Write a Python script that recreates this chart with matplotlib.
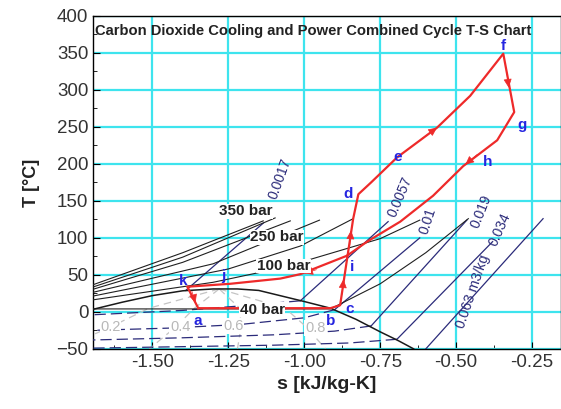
import numpy as np
import matplotlib
matplotlib.use('Agg')
import matplotlib.pyplot as plt

plt.rcParams['font.family'] = ['Liberation Sans', 'DejaVu Sans']

# saturation dome (s in kJ/kg-K, T in C)
dome_s = [-1.70, -1.60, -1.50, -1.40, -1.30, -1.22, -1.15, -1.08, -1.00, -0.914, -0.83, -0.75, -0.69, -0.64]
dome_T = [3, 13, 22, 28.5, 31, 31, 29, 22, 14, 5, -10, -27, -39, -50]

# saturated liquid / vapour entropy at a few temperatures (for quality lines)
sat_T = [31, 5, -20, -50]
sat_sf = [-1.28, -1.66, -1.85, -2.09]
sat_sg = [-1.28, -0.914, -0.78, -0.64]
qualities = [0.2, 0.4, 0.6, 0.8]
quality_pos = [(-1.638, -20), (-1.408, -20), (-1.234, -19), (-0.964, -22)]

# isobars
isobars = {
    '350': ([-1.70, -1.40, -1.135], [36, 80, 123]),
    '300': ([-1.70, -1.40, -1.096], [33, 74, 127]),
    '250': ([-1.70, -1.40, -1.046], [30, 67, 123]),
    '200': ([-1.70, -1.30, -0.95], [26, 65, 124]),
    '150': ([-1.70, -1.25, -1.013, -0.839], [21, 58, 89, 126]),
    '100': ([-1.70, -1.30, -1.07, -0.75, -0.62], [16, 40, 60, 99, 124]),
    '40': ([-1.70, -0.914, -0.75, -0.60, -0.46], [4, 4, 38, 80, 126]),
}
isobar_labels = ['350 bar', '250 bar', '100 bar', '40 bar']
isobar_label_pos = [(-1.194, 136), (-1.089, 101), (-1.069, 62), (-1.138, 3)]

# isochores, superheated / supercritical part
isochores = {
    '0.0017': ([-1.39, -1.135], [29, 120]),
    '0.0057': ([-1.013, -0.724], [15, 122]),
    '0.01': ([-0.90, -0.62], [3, 100]),
    '0.019': ([-0.78, -0.465], [-19, 124]),
    '0.034': ([-0.695, -0.38], [-37, 95]),
    '0.063': ([-0.60, -0.214], [-50, 126]),
}
# isochores inside the dome
isochores_2ph = {
    '0.0057': ([-1.013, -1.15, -1.40, -1.70], [15, 10, 2, -4]),
    '0.01': ([-0.90, -1.00, -1.21, -1.45, -1.70], [3, -8, -17, -22, -25]),
    '0.019': ([-0.78, -0.90, -1.10, -1.40, -1.70], [-19, -26, -31, -35, -38]),
    '0.034': ([-0.695, -0.85, -1.10, -1.40, -1.70], [-37, -42, -45, -47, -49]),
}
isochore_labels = ['0.0017', '0.0057', '0.01', '0.019', '0.034', '0.063 m3/kg']
isochore_label_pos = [(-1.079, 180), (-0.684, 155), (-0.592, 123), (-0.418, 136), (-0.355, 111), (-0.444, 27)]
isochore_label_rot = [70, 67, 72, 68, 66, 71]

# cycle a-b-c-i-d-e-f-g-h-j-k-a
cycle_s = [-1.349, -0.914, -0.882, -0.859, -0.839, -0.822, -0.78, -0.694, -0.563, -0.454, -0.345,
           -0.309, -0.365, -0.477, -0.576, -0.684, -0.793, -0.859, -1.013, -1.079, -1.243, -1.385, -1.349]
cycle_T = [5, 5, 9, 72, 126, 159, 175, 209, 249, 292, 349,
           270, 232, 197, 157, 122, 95, 76, 51, 45, 38, 34, 5]
point_names = ['a', 'b', 'c', 'i', 'd', 'e', 'f', 'g', 'h', 'k', 'j']
point_pos = [(-1.352, -12), (-0.914, -12), (-0.852, 4), (-0.842, 61), (-0.855, 159), (-0.694, 210),
             (-0.345, 360), (-0.283, 252), (-0.395, 203), (-1.40, 42), (-1.266, 49)]
# arrow heads: (tail, head), both on the cycle path
arrows = [((-0.61, 235), (-0.563, 249)), ((-0.334, 325), (-0.327, 303)), ((-0.43, 213), (-0.47, 199)),
          ((-1.37, 28), (-1.358, 12)), ((-0.875, 24), (-0.871, 44)), ((-0.850, 90), (-0.846, 110)),
          ((-0.96, 57), (-1.00, 52))]

red = '#ee2a2a'
navy = '#2b2b7a'
pt_blue = '#2525e0'

fig = plt.figure(figsize=(5.61, 4.09), dpi=100)
ax = fig.add_axes([0.166, 0.147, 0.834, 0.814])

ax.set_xlim(-1.695, -0.155)
ax.set_ylim(-50, 400)
ax.set_xticks(np.arange(-1.5, -0.2, 0.25))
ax.set_xticks(np.arange(-1.625, -0.2, 0.125), minor=True)
ax.set_yticks(np.arange(-50, 401, 50))
ax.set_yticks(np.arange(-50, 401, 25), minor=True)
ax.xaxis.set_major_formatter(matplotlib.ticker.FormatStrFormatter('%.2f'))
ax.tick_params(which='both', direction='in', labelsize=13.5, labelcolor='#333333')
ax.tick_params(which='major', length=5)
ax.tick_params(which='minor', length=3)
ax.grid(True, which='major', color='#3ee4ee', lw=1.6, zorder=0)
ax.set_axisbelow(True)
for sp in ax.spines.values():
    sp.set_linewidth(1.0)

# quality lines
for q in qualities:
    qs = np.array(sat_sf) + q * (np.array(sat_sg) - np.array(sat_sf))
    ax.plot(qs, sat_T, color='#c4c4c4', lw=0.9, ls=(0, (6, 4)), zorder=2)
for q, (x, y) in zip(qualities, quality_pos):
    ax.text(x, y, f'{q:.1f}', color='#b8b8b8', fontsize=10.5, ha='center', va='center', zorder=6,
            bbox=dict(fc='white', ec='none', pad=0.5))

# isochores
for k, (s, T) in isochores_2ph.items():
    ax.plot(s, T, color=navy, lw=0.9, ls=(0, (9, 4)), zorder=3)
for k, (s, T) in isochores.items():
    ax.plot(s, T, color=navy, lw=0.9, zorder=3)
for lab, (x, y), r in zip(isochore_labels, isochore_label_pos, isochore_label_rot):
    ax.text(x, y, lab, color=navy, fontsize=10, rotation=r, ha='center', va='center', zorder=6)

# isobars
for k, (s, T) in isobars.items():
    ax.plot(s, T, color='#202020', lw=0.8, zorder=3)
for lab, (x, y) in zip(isobar_labels, isobar_label_pos):
    ax.text(x, y, lab, color='#222222', fontsize=11, fontweight='bold', ha='center', va='center',
            zorder=7, bbox=dict(fc='white', ec='none', pad=0.3))

# dome
ax.plot(dome_s, dome_T, color='#1a1a1a', lw=1.1, zorder=4)

# cycle
ax.plot(cycle_s, cycle_T, color=red, lw=1.6, zorder=5)
for p0, p1 in arrows:
    ax.annotate('', xy=p1, xytext=p0,
                arrowprops=dict(arrowstyle='-|>,head_length=0.6,head_width=0.28', color=red, lw=0.5,
                                mutation_scale=9, shrinkA=0, shrinkB=0), zorder=5)
for name, (x, y) in zip(point_names, point_pos):
    ax.text(x, y, name, color=pt_blue, fontsize=11, fontweight='bold', ha='center', va='center', zorder=8)

ax.text(-1.688, 380, 'Carbon Dioxide Cooling and Power Combined Cycle T-S Chart', fontsize=10.6,
        fontweight='bold', color='#222222', ha='left', va='center', zorder=8)

ax.set_xlabel('s [kJ/kg-K]', fontsize=14, fontweight='bold', color='#222222', labelpad=4)
ax.set_ylabel('T [°C]', fontsize=13, fontweight='bold', color='#222222', labelpad=12)

fig.savefig('out.png', dpi=100)
